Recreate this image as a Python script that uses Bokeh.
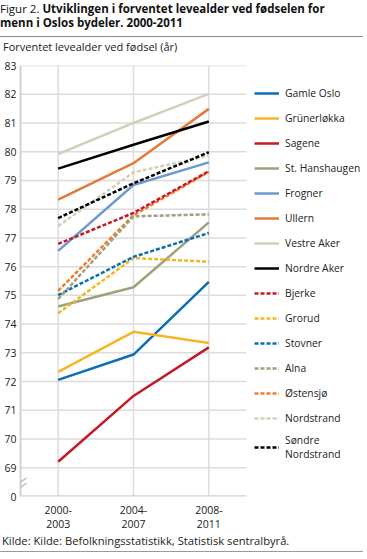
from bokeh.plotting import figure
from bokeh.models import FixedTicker, Legend, LegendItem, Arrow, Div
from bokeh.layouts import column
from bokeh.embed import file_html
from bokeh.resources import INLINE

# ---------------- data ----------------
periods = ["2000-\n2003", "2004-\n2007", "2008-\n2011"]
y_ticks = list(range(68, 84))
y_tick_labels = {68: "0"}

gamle_oslo = [72.06, 72.94, 75.47]
grunerlokka = [72.34, 73.73, 73.34]
sagene = [69.21, 71.50, 73.19]
st_hanshaugen = [74.61, 75.28, 77.54]
frogner = [76.55, 78.84, 79.63]
ullern = [78.33, 79.60, 81.49]
vestre_aker = [79.92, 81.00, 82.01]
nordre_aker = [79.41, 80.24, 81.05]
bjerke = [76.79, 77.87, 79.32]
grorud = [74.38, 76.30, 76.17]
stovner = [75.01, 76.34, 77.17]
alna = [74.87, 77.75, 77.82]
ostensjo = [75.16, 77.79, 79.30]
nordstrand = [77.41, 79.28, 79.86]
sondre_nordstrand = [77.69, 78.90, 79.98]

BLUE, YELLOW, RED, OLIVE = "#0a6eb4", "#f7b526", "#c41a24", "#9fa17b"
LBLUE, ORANGE, BEIGE, BLACK = "#6b9bd0", "#e27b3b", "#d3d1b7", "#000000"
ORANGE2 = "#f47c2c"
GRID, AXIS = "#dcdcdc", "#d2d2d2"

series = [
    ("Gamle Oslo", gamle_oslo, BLUE, "solid"),
    ("Grünerløkka", grunerlokka, YELLOW, "solid"),
    ("Sagene", sagene, RED, "solid"),
    ("St. Hanshaugen", st_hanshaugen, OLIVE, "solid"),
    ("Frogner", frogner, LBLUE, "solid"),
    ("Ullern", ullern, ORANGE, "solid"),
    ("Vestre Aker", vestre_aker, BEIGE, "solid"),
    ("Nordre Aker", nordre_aker, BLACK, "solid"),
    ("Bjerke", bjerke, RED, "4 2"),
    ("Grorud", grorud, YELLOW, "4 2"),
    ("Stovner", stovner, BLUE, "4 2"),
    ("Alna", alna, OLIVE, "4 2"),
    ("Østensjø", ostensjo, ORANGE2, "4 2"),
    ("Nordstrand", nordstrand, BEIGE, "4 2"),
    ("Søndre\nNordstrand", sondre_nordstrand, BLACK, "4 2"),
]
draw_order = [0, 1, 2, 3, 4, 5, 6, 7, 12, 8, 9, 10, 11, 13, 14]

TITLE_REG = "Figur 2."
TITLE_BOLD_1 = "Utviklingen i forventet levealder ved fødselen for"
TITLE_BOLD_2 = "menn i Oslos bydeler. 2000-2011"
SUBTITLE = "Forventet levealder ved fødsel (år)"
SOURCE = "Kilde: Kilde: Befolkningsstatistikk, Statistisk sentralbyrå."

# ---------------- layout ----------------
W = 363
FONT = "Open Sans"
TOP_H = 58
ML, MR, MT, MB = 20, 0, 7, 30
FH = 431
SRC_H = 20
DATA_W = 226                      # pixel width of the data part of the frame
FRAME_W = W - ML - MR
x_pos = list(range(len(periods)))
X0, X1 = -0.5, len(periods) - 0.5
x_end = X0 + (X1 - X0) * FRAME_W / DATA_W

title_div = Div(width=W, height=TOP_H, margin=0, text=(
    f"<div style=\"font-family:'{FONT}';font-size:11.5px;line-height:14px;color:#111;"
    f"padding-top:2px;white-space:nowrap;\">{TITLE_REG} <b>{TITLE_BOLD_1}</b><br>"
    f"<b>{TITLE_BOLD_2}</b></div>"
    f"<div style=\"height:0;border-top:1px solid #8a8a8a;margin-top:6px;width:{W}px\"></div>"
    f"<div style=\"font-family:'{FONT}';font-size:11px;line-height:13px;color:#222;"
    f"margin-top:3px;margin-left:3px;white-space:nowrap;\">{SUBTITLE}</div>"))

source_div = Div(width=W, height=SRC_H, margin=0, text=(
    f"<div style=\"font-family:'{FONT}';font-size:11.2px;line-height:13px;color:#222;"
    f"padding-top:0px;margin-left:2px;white-space:nowrap;\">{SOURCE}</div>"
    f"<div style=\"height:0;border-top:1px solid #9a9a9a;margin-top:4px;width:{W}px\"></div>"))

p = figure(width=W, frame_height=FH, x_range=(X0, x_end), y_range=(68, 83),
           output_backend="svg", toolbar_location=None,
           min_border_left=ML, min_border_right=MR,
           min_border_top=MT, min_border_bottom=MB)
p.outline_line_color = None
p.background_fill_color = "white"
p.xgrid.visible = False
p.ygrid.visible = False

# grid + x axis line limited to the data part
grid_y = y_ticks[1:]
p.segment(x0=[X0] * len(grid_y), x1=[X1] * len(grid_y), y0=grid_y, y1=grid_y,
          line_color=GRID, line_width=1.5)
p.segment(x0=x_pos, x1=x_pos, y0=[y_ticks[0]] * len(x_pos), y1=[y_ticks[-1]] * len(x_pos),
          line_color=GRID, line_width=1.5)
p.segment(x0=[X0], x1=[X1], y0=[y_ticks[0]], y1=[y_ticks[0]], line_color=AXIS, line_width=2.5)

# axes
p.xaxis.ticker = FixedTicker(ticks=x_pos)
p.xaxis.major_label_overrides = {i: lab for i, lab in zip(x_pos, periods)}
p.xaxis.axis_line_color = None
p.yaxis.ticker = FixedTicker(ticks=y_ticks)
p.yaxis.major_label_overrides = y_tick_labels
p.yaxis.axis_line_color = AXIS
p.yaxis.axis_line_width = 2
for ax in (p.xaxis, p.yaxis):
    ax.major_tick_line_color = None
    ax.minor_tick_line_color = None
    ax.major_tick_out = 0
    ax.major_label_text_font = FONT
    ax.major_label_text_font_size = "10.5px"
    ax.major_label_text_color = "#222222"
p.xaxis.major_label_text_line_height = 1.0
p.xaxis.major_label_standoff = 6
p.yaxis.major_label_standoff = 4

# lines
renderers = {}
for i in draw_order:
    name, vals, col, dash = series[i]
    renderers[i] = p.line(x_pos, vals, line_color=col, line_width=2.5, line_dash=dash)

legend = Legend(items=[LegendItem(label=s[0], renderers=[renderers[i]])
                       for i, s in enumerate(series)],
                location=(DATA_W + 8, 35))
legend.label_text_font = FONT
legend.label_text_font_size = "10.3px"
legend.label_text_color = "#222222"
legend.glyph_width = 25
legend.glyph_height = 20
legend.label_height = 20
legend.spacing = 5
legend.padding = 0
legend.margin = 0
legend.label_standoff = 6
legend.border_line_color = None
legend.background_fill_alpha = 0
p.add_layout(legend)

# axis break marks (data coords: just above the axis at the left edge)
BREAK_Y = 68.45
for off in (-0.09, 0.09):
    p.add_layout(Arrow(end=None, x_start=-0.54, y_start=BREAK_Y + off - 0.1,
                       x_end=-0.42, y_end=BREAK_Y + off + 0.1,
                       line_color="#b5b5b5", line_width=1.2))

page = column(title_div, p, source_div, spacing=0)
open("out.html", "w").write(file_html(page, INLINE))
